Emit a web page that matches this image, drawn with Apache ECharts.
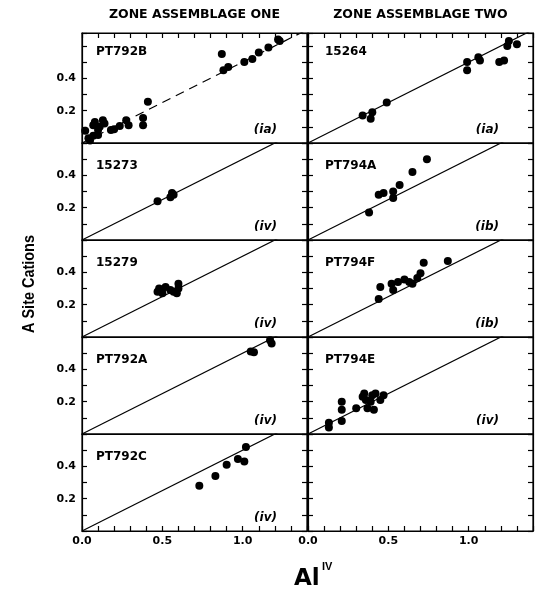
<!DOCTYPE html>
<html>
<head>
<meta charset="utf-8">
<script src="https://cdn.jsdelivr.net/npm/echarts@6/dist/echarts.min.js"></script>
<style>
  html, body { margin: 0; padding: 0; background: #fff; }
  #chart { width: 542px; height: 590px; }
</style>
</head>
<body>
<div id="chart"></div>
<script>
// A site cations vs Al(IV)
const pt792b = [[0.02,0.075],[0.04,0.03],[0.05,0.015],[0.07,0.045],[0.07,0.11],[0.08,0.13],[0.1,0.05],[0.1,0.08],[0.11,0.1],[0.13,0.14],[0.14,0.12],[0.18,0.08],[0.2,0.085],[0.235,0.105],[0.275,0.14],[0.29,0.11],[0.38,0.155],[0.38,0.11],[0.41,0.255],[0.87,0.55],[0.88,0.45],[0.91,0.47],[1.01,0.5],[1.06,0.52],[1.1,0.56],[1.16,0.59],[1.22,0.64],[1.23,0.63]]
const s15264 = [[0.34,0.17],[0.39,0.15],[0.4,0.19],[0.49,0.25],[0.99,0.5],[0.99,0.45],[1.06,0.53],[1.07,0.51],[1.19,0.5],[1.22,0.51],[1.24,0.6],[1.25,0.63],[1.3,0.61]]
const s15273 = [[0.47,0.24],[0.55,0.265],[0.56,0.29],[0.57,0.28]]
const pt794a = [[0.38,0.17],[0.44,0.28],[0.47,0.29],[0.53,0.3],[0.53,0.26],[0.57,0.34],[0.65,0.42],[0.74,0.5]]
const s15279 = [[0.47,0.28],[0.48,0.3],[0.5,0.27],[0.52,0.31],[0.55,0.29],[0.57,0.28],[0.59,0.27],[0.6,0.3],[0.6,0.33]]
const pt794f = [[0.44,0.235],[0.45,0.31],[0.52,0.33],[0.53,0.29],[0.56,0.34],[0.6,0.355],[0.63,0.34],[0.65,0.33],[0.68,0.365],[0.7,0.395],[0.72,0.46],[0.87,0.47]]
const pt792a = [[1.05,0.51],[1.07,0.505],[1.17,0.58],[1.18,0.56]]
const pt794e = [[0.13,0.07],[0.13,0.04],[0.21,0.2],[0.21,0.15],[0.21,0.08],[0.3,0.16],[0.35,0.25],[0.34,0.23],[0.36,0.21],[0.37,0.16],[0.39,0.2],[0.4,0.24],[0.42,0.25],[0.41,0.15],[0.45,0.21],[0.47,0.24]]
const pt792c = [[0.73,0.28],[0.83,0.34],[0.9,0.41],[0.97,0.445],[1.01,0.43],[1.02,0.52]]

const refLine = [[0, 0], [1.4, 0.7]]   // A = 0.5 Al(IV)
const xTickLabels = ['0.0', '0.5', '1.0']
const yTickLabels = ['0.2', '0.4']

// row-major: [left, right]
const panels = [
  { name: 'PT792B', tag: '(ia)', data: pt792b, dashed: true },
  { name: '15264',  tag: '(ia)', data: s15264 },
  { name: '15273',  tag: '(iv)', data: s15273 },
  { name: 'PT794A', tag: '(ib)', data: pt794a },
  { name: '15279',  tag: '(iv)', data: s15279 },
  { name: 'PT794F', tag: '(ib)', data: pt794f },
  { name: 'PT792A', tag: '(iv)', data: pt792a },
  { name: 'PT794E', tag: '(iv)', data: pt794e },
  { name: 'PT792C', tag: '(iv)', data: pt792c },
  { name: '',       tag: '',     data: [], noLine: true }
]

const colLeft = [82, 308]
const colW = 225
const rowTop = [33, 143, 240, 337, 434]
const rowH = [110, 97, 97, 97, 97]
const yMax = [0.68, 0.6, 0.6, 0.6, 0.6]

const FONT = '"DejaVu Sans", sans-serif'
const tick = { show: true, inside: true, length: 5, lineStyle: { color: '#000', width: 1.2 } }
const line = { show: true, onZero: false, lineStyle: { color: '#000', width: 1.2 } }

const chart = echarts.init(document.getElementById('chart'))

const grid = [], xAxis = [], yAxis = [], series = [], graphic = []

panels.forEach((p, i) => {
  const r = Math.floor(i / 2), c = i % 2
  grid.push({
    left: colLeft[c], top: rowTop[r], width: colW, height: rowH[r],
    show: true, borderColor: '#000', borderWidth: 1.2, backgroundColor: 'transparent'
  })
  xAxis.push({
    type: 'value', gridIndex: i, position: 'bottom', min: 0, max: 1.4, interval: 0.1,
    axisLine: line, splitLine: { show: false },
    axisTick: { ...tick, show: r === 4 },
    axisLabel: {
      show: r === 4, margin: 5, color: '#000', fontFamily: FONT, fontWeight: 'bold', fontSize: 11,
      formatter: v => {
        const k = Math.round(v * 10)
        return k === 0 ? xTickLabels[0] : k === 5 ? xTickLabels[1] : k === 10 ? xTickLabels[2] : ''
      }
    }
  })
  const yLab = {
    color: '#000', fontFamily: FONT, fontWeight: 'bold', fontSize: 11, margin: 6,
    formatter: v => {
      const k = Math.round(v * 10)
      return k === 2 ? yTickLabels[0] : k === 4 ? yTickLabels[1] : ''
    }
  }
  yAxis.push({
    type: 'value', gridIndex: i, position: 'left', min: 0, max: yMax[r], interval: 0.1,
    axisLine: line, splitLine: { show: false }, axisTick: tick,
    axisLabel: { ...yLab, show: c === 0 }
  })
  yAxis.push({
    type: 'value', gridIndex: i, position: 'right', min: 0, max: yMax[r], interval: 0.1,
    axisLine: line, splitLine: { show: false }, axisTick: tick,
    axisLabel: { show: false }
  })
  if (!p.noLine) {
    series.push({
      type: 'line', xAxisIndex: i, yAxisIndex: 2 * i, data: refLine, clip: true,
      symbol: 'none', silent: true, z: 1,
      lineStyle: { color: '#000', width: 1.2, type: p.dashed ? [9, 6] : 'solid' }
    })
  }
  series.push({
    type: 'scatter', xAxisIndex: i, yAxisIndex: 2 * i, data: p.data, clip: false,
    symbol: 'circle', symbolSize: 8, itemStyle: { color: '#000', opacity: 1 }, z: 2
  })
  if (p.name) {
    graphic.push({
      type: 'text', x: colLeft[c] + (c === 0 ? 14 : 17), y: rowTop[r] + (r === 0 ? 19 : 23),
      style: { text: p.name, fill: '#000', font: 'bold 12px ' + FONT, textVerticalAlign: 'middle' }
    })
    graphic.push({
      type: 'text', x: colLeft[c] + colW - (c === 0 ? 30 : 34), y: rowTop[r] + rowH[r] - 13,
      style: { text: p.tag, fill: '#000', font: 'italic bold 12px ' + FONT, textAlign: 'right', textVerticalAlign: 'middle' }
    })
  }
})

// top ticks on the upper row
;[0, 1].forEach(i => {
  xAxis.push({
    type: 'value', gridIndex: i, position: 'top', min: 0, max: 1.4, interval: 0.1,
    axisLine: line, splitLine: { show: false }, axisTick: tick, axisLabel: { show: false }
  })
})

graphic.push(
  { type: 'text', x: colLeft[0] + colW / 2, y: 15,
    style: { text: 'ZONE ASSEMBLAGE ONE', fill: '#000', font: 'bold 12.5px ' + FONT, textAlign: 'center', textVerticalAlign: 'middle' } },
  { type: 'text', x: colLeft[1] + colW / 2, y: 15,
    style: { text: 'ZONE ASSEMBLAGE TWO', fill: '#000', font: 'bold 12.5px ' + FONT, textAlign: 'center', textVerticalAlign: 'middle' } },
  { type: 'text', x: 29, y: 284, rotation: Math.PI / 2, scaleX: 0.85,
    style: { text: 'A Site Cations', fill: '#000', font: 'bold 17px "Liberation Sans", sans-serif', textAlign: 'center', textVerticalAlign: 'middle' } },
  { type: 'text', x: 294, y: 579,
    style: { text: 'Al', fill: '#000', font: 'bold 23px ' + FONT, textVerticalAlign: 'middle' } },
  { type: 'text', x: 322, y: 567,
    style: { text: 'IV', fill: '#000', font: 'bold 11px "Liberation Sans", sans-serif', textVerticalAlign: 'middle' } }
)

chart.setOption({
  backgroundColor: '#fff',
  animation: false,
  grid, xAxis, yAxis, series, graphic
})
</script>
</body>
</html>
